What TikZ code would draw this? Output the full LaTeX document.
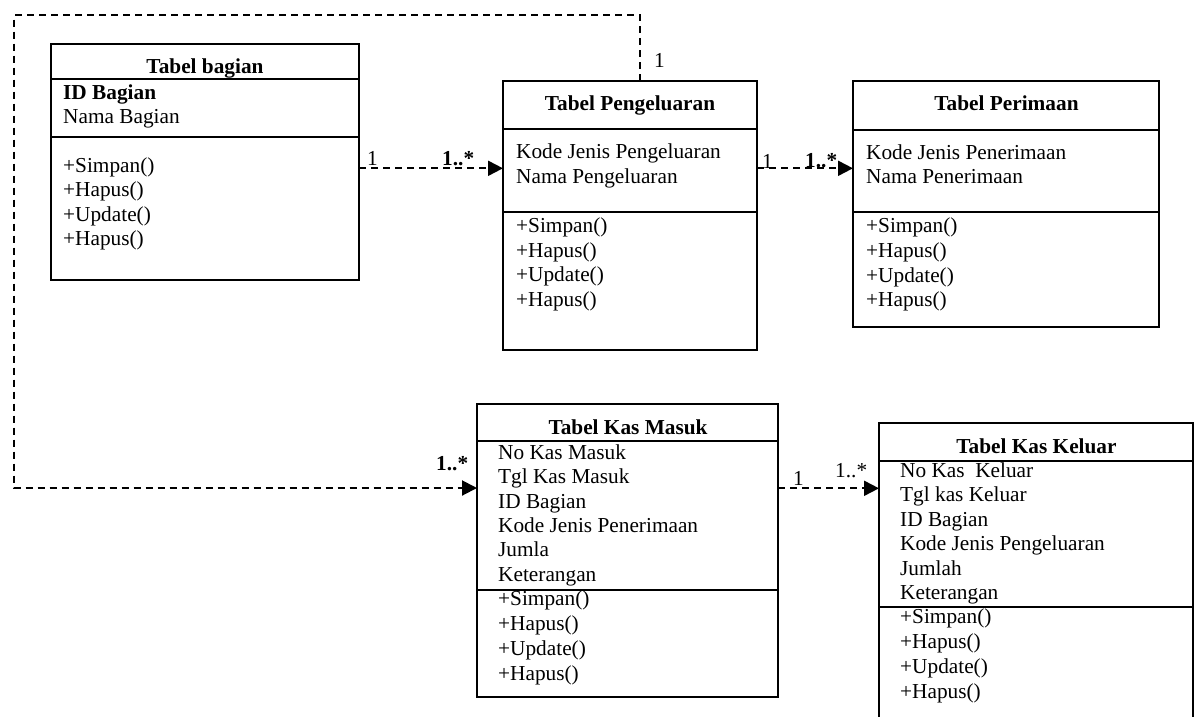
\documentclass[tikz,border=0pt]{standalone}
\usepackage{fontspec}
\setmainfont{Liberation Serif}
\usetikzlibrary{arrows.meta}
\begin{document}
\begin{tikzpicture}[x=1pt,y=-1pt,
  classbox/.style={draw, line width=2pt, inner sep=0pt, outer sep=0pt, anchor=north west},
  sepline/.style={line width=1.8pt},
  txt/.style={anchor=base west, inner sep=0pt, font=\fontsize{21.3}{24}\selectfont},
  ttl/.style={anchor=base, inner sep=0pt, font=\fontsize{21.3}{24}\selectfont\bfseries},
  mult/.style={anchor=base west, inner sep=0pt, font=\fontsize{21.3}{24}\selectfont},
  bmult/.style={mult, font=\fontsize{21.3}{24}\selectfont\bfseries},
  dep/.style={line width=2pt, dash pattern=on 7pt off 5pt,
    -{Triangle[length=15pt,width=15pt]}}]
\useasboundingbox (0,0) rectangle (1199,716);
\clip (0,0) rectangle (1199,716);

% ---- Tabel bagian
\node[classbox, minimum width=308pt, minimum height=236pt] (bag) at (51,44) {};
\draw[sepline] (bag.west |- 0,79) -- (bag.east |- 0,79);
\draw[sepline] (bag.west |- 0,137) -- (bag.east |- 0,137);
\node[ttl] (bagt) at (205,73) {Tabel bagian};
\node[txt, font=\fontsize{21.3}{24}\selectfont\bfseries] (baga1) at (63,99) {ID Bagian};
\node[txt] (baga2) at (63,123) {Nama Bagian};
\foreach \t [count=\i] in {+Simpan(),+Hapus(),+Update(),+Hapus()}
  \node[txt] (bagm\i) at (63,{172+24.5*(\i-1)}) {\t};

% ---- Tabel Pengeluaran
\node[classbox, minimum width=254pt, minimum height=269pt] (pen) at (503,80.5) {};
\draw[sepline] (pen.west |- 0,129) -- (pen.east |- 0,129);
\draw[sepline] (pen.west |- 0,212) -- (pen.east |- 0,212);
\node[ttl] (pent) at (630,110) {Tabel Pengeluaran};
\node[txt] (pena1) at (516,158.3) {Kode Jenis Pengeluaran};
\node[txt] (pena2) at (516,183) {Nama Pengeluaran};
\foreach \t [count=\i] in {+Simpan(),+Hapus(),+Update(),+Hapus()}
  \node[txt] (penm\i) at (516,{232.5+24.7*(\i-1)}) {\t};

% ---- Tabel Perimaan
\node[classbox, minimum width=306pt, minimum height=246pt] (per) at (853,80.5) {};
\draw[sepline] (per.west |- 0,130) -- (per.east |- 0,130);
\draw[sepline] (per.west |- 0,212) -- (per.east |- 0,212);
\node[ttl] (pert) at (1006.5,110.5) {Tabel Perimaan};
\node[txt] (pera1) at (866,159) {Kode Jenis Penerimaan};
\node[txt] (pera2) at (866,183.3) {Nama Penerimaan};
\foreach \t [count=\i] in {+Simpan(),+Hapus(),+Update(),+Hapus()}
  \node[txt] (perm\i) at (866,{232.7+24.7*(\i-1)}) {\t};

% ---- Tabel Kas Masuk
\node[classbox, minimum width=301pt, minimum height=293pt] (kmk) at (477,404) {};
\draw[sepline] (kmk.west |- 0,441) -- (kmk.east |- 0,441);
\draw[sepline] (kmk.west |- 0,590) -- (kmk.east |- 0,590);
\node[ttl] (kmkt) at (628,434) {Tabel Kas Masuk};
\foreach \t [count=\i] in {No Kas Masuk,Tgl Kas Masuk,ID Bagian,Kode Jenis Penerimaan,Jumla,Keterangan}
  \node[txt] (kmka\i) at (498,{459.3+24.4*(\i-1)}) {\t};
\foreach \t [count=\i] in {+Simpan(),+Hapus(),+Update(),+Hapus()}
  \node[txt] (kmkm\i) at (498,{605+25*(\i-1)}) {\t};

% ---- Tabel Kas Keluar (runs past the lower edge)
\node[classbox, minimum width=314pt, minimum height=330pt] (kkl) at (879,423) {};
\draw[sepline] (kkl.west |- 0,460.7) -- (kkl.east |- 0,460.7);
\draw[sepline] (kkl.west |- 0,607) -- (kkl.east |- 0,607);
\node[ttl] (kklt) at (1036.5,453.3) {Tabel Kas Keluar};
\foreach \t [count=\i] in {No Kas\ \ Keluar,Tgl kas Keluar,ID Bagian,Kode Jenis Pengeluaran,Jumlah,Keterangan}
  \node[txt] (kkla\i) at (900,{477.3+24.5*(\i-1)}) {\t};
\foreach \t [count=\i] in {+Simpan(),+Hapus(),+Update(),+Hapus()}
  \node[txt] (kklm\i) at (900,{623.3+25*(\i-1)}) {\t};

% ---- connectors
\draw[dep] (bag.east |- 0,168.3) -- (pen.west |- 0,168.3);
\draw[dep] (pen.east |- 0,168.3) -- (per.west |- 0,168.3);
\draw[dep] (kmk.east |- 0,488.3) -- (kkl.west |- 0,488.3);
\coordinate (loopA) at (640,15);
\coordinate (loopB) at (14,15);
\coordinate (loopC) at (14,488);
\draw[dep] (pen.north -| loopA) -- (loopA) -- (loopB) -- (loopC) -- (kmk.west |- loopC);

% ---- multiplicities
\node[mult] (m1) at (367,165) {1};
\node[bmult] (m2) at (442,165) {1..*};
\node[mult] (m3) at (654,67) {1};
\node[mult] (m4) at (762,168) {1};
\node[bmult] (m5) at (805,167) {1..*};
\node[bmult] (m6) at (436,470) {1..*};
\node[mult] (m7) at (793,485) {1};
\node[mult] (m8) at (835,477) {1..*};
\end{tikzpicture}
\end{document}
